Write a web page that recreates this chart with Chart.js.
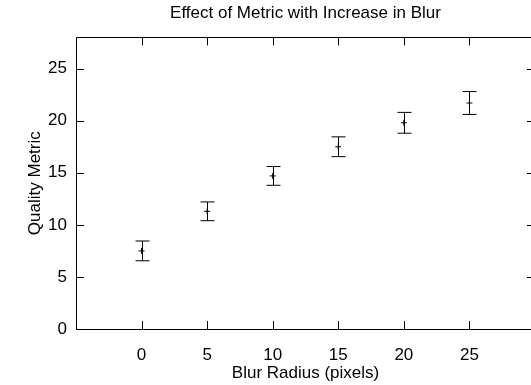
<!DOCTYPE html>
<html>
<head>
<meta charset="utf-8">
<script src="https://cdn.jsdelivr.net/npm/chart.js@4"></script>
<style>
  html, body { margin: 0; padding: 0; overflow: hidden; background: #fff; }
  #wrap { width: 540px; height: 385px; }
</style>
</head>
<body>
<div id="wrap"><canvas id="chart"></canvas></div>
<script>
const blurRadius = [0, 5, 10, 15, 20, 25];
const qualityMean = [7.5, 11.3, 14.7, 17.5, 19.8, 21.7];
const qualityErr = [0.95, 0.9, 0.9, 0.95, 1.0, 1.1];
const xTicks = [0, 5, 10, 15, 20, 25];
const yTicks = [0, 5, 10, 15, 20, 25];

const FONT = 'Liberation Sans, Arial, Helvetica, sans-serif';
const SIZE = 17;

// draws the frame, inward ticks on all sides, and the error bars
const gnuplotLook = {
    id: 'gnuplotLook',
    afterDatasetsDraw(chart) {
        const ctx = chart.ctx;
        const area = chart.chartArea;
        const xs = chart.scales.x;
        const ys = chart.scales.y;
        const tl = 8;
        ctx.save();
        ctx.strokeStyle = '#000';
        ctx.lineWidth = 1;

        // error bars
        blurRadius.forEach((bx, i) => {
            const px = Math.round(xs.getPixelForValue(bx)) + 0.5;
            const top = ys.getPixelForValue(qualityMean[i] + qualityErr[i]);
            const bot = ys.getPixelForValue(qualityMean[i] - qualityErr[i]);
            ctx.beginPath();
            ctx.moveTo(px, top);
            ctx.lineTo(px, bot);
            ctx.moveTo(px - 7, top);
            ctx.lineTo(px + 7, top);
            ctx.moveTo(px - 7, bot);
            ctx.lineTo(px + 7, bot);
            ctx.stroke();
        });

        // frame: left, top, bottom (right edge sits past the window)
        const l = Math.round(area.left) + 0.5;
        const t = Math.round(area.top) + 0.5;
        const b = Math.round(area.bottom) + 0.5;
        ctx.beginPath();
        ctx.moveTo(area.right, t);
        ctx.lineTo(l, t);
        ctx.lineTo(l, b);
        ctx.lineTo(area.right, b);
        ctx.stroke();

        // ticks
        ctx.beginPath();
        xTicks.forEach(v => {
            const px = Math.round(xs.getPixelForValue(v)) + 0.5;
            ctx.moveTo(px, area.bottom);
            ctx.lineTo(px, area.bottom - tl);
            ctx.moveTo(px, area.top);
            ctx.lineTo(px, area.top + tl);
        });
        yTicks.forEach(v => {
            const py = Math.round(ys.getPixelForValue(v)) + 0.5;
            ctx.moveTo(area.left, py);
            ctx.lineTo(area.left + tl, py);
            ctx.moveTo(area.right, py);
            ctx.lineTo(area.right - tl, py);
        });
        ctx.stroke();
        ctx.restore();
    }
};

const ctx = document.getElementById('chart').getContext('2d');
new Chart(ctx, {
    type: 'scatter',
    data: {
        datasets: [{
            label: 'Quality Metric',
            data: blurRadius.map((x, i) => ({ x: x, y: qualityMean[i] })),
            pointStyle: 'cross',
            pointRadius: 3,
            pointBorderWidth: 1,
            borderColor: '#000',
            backgroundColor: '#000'
        }]
    },
    options: {
        responsive: true,
        maintainAspectRatio: false,
        animation: false,
        events: [],
        layout: { padding: { left: 0, right: 5, top: 0, bottom: 0 } },
        plugins: {
            legend: { display: false },
            tooltip: { enabled: false },
            title: {
                display: true,
                fullSize: false,
                text: 'Effect of Metric with Increase in Blur',
                color: '#000',
                font: { family: FONT, size: SIZE, weight: 'normal' },
                padding: { top: 3, bottom: 14 }
            }
        },
        scales: {
            x: {
                type: 'linear',
                min: -5,
                max: 30,
                afterBuildTicks: s => { s.ticks = xTicks.map(v => ({ value: v })); },
                afterFit: s => { s.height = 56; },
                grid: { display: false, drawTicks: false, tickLength: 0 },
                border: { display: false },
                ticks: { color: '#000', padding: 16, font: { family: FONT, size: SIZE } },
                title: {
                    display: true,
                    text: 'Blur Radius (pixels)',
                    color: '#000',
                    font: { family: FONT, size: SIZE },
                    padding: { top: 0, bottom: 1 }
                }
            },
            y: {
                type: 'linear',
                min: 0,
                max: 28,
                afterBuildTicks: s => { s.ticks = yTicks.map(v => ({ value: v })); },
                afterFit: s => { s.width = 76; },
                grid: { display: false, drawTicks: false, tickLength: 0 },
                border: { display: false },
                ticks: { color: '#000', padding: 9, font: { family: FONT, size: SIZE } },
                title: {
                    display: true,
                    text: 'Quality Metric',
                    color: '#000',
                    font: { family: FONT, size: SIZE },
                    padding: { top: 25, bottom: 0 }
                }
            }
        }
    },
    plugins: [gnuplotLook]
});
</script>
</body>
</html>
